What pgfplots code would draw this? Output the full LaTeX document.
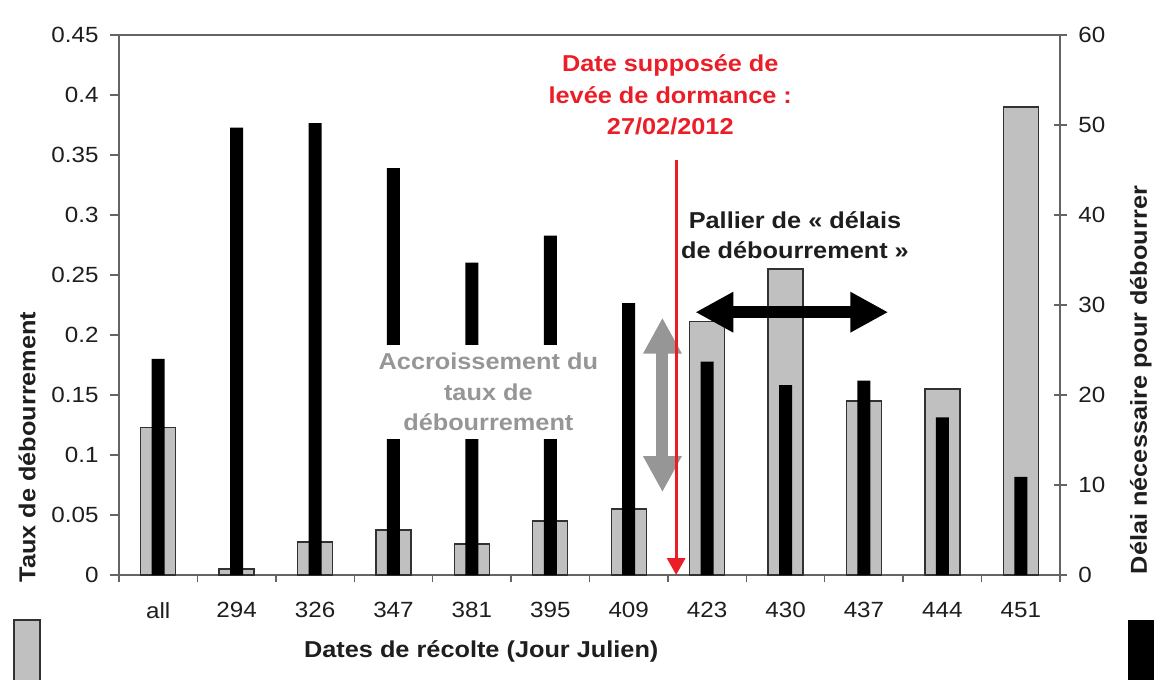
\documentclass[border=0pt]{standalone}
\usepackage{fontspec}
\setmainfont{Liberation Sans}[FakeStretch=1.1]
\usepackage{pgfplots}
\pgfplotsset{compat=1.18}
\usetikzlibrary{arrows.meta,calc}

\definecolor{axgray}{RGB}{100,100,100}
\definecolor{bargray}{RGB}{192,192,192}
\definecolor{barline}{RGB}{50,50,50}
\definecolor{annred}{RGB}{235,30,40}
\definecolor{anngray}{RGB}{150,150,150}
\definecolor{txt}{RGB}{30,30,30}

\begin{document}
\begin{tikzpicture}
\begin{axis}[
  name=ax,
  scale only axis, width=470.5pt, height=270pt,
  xmin=-0.5, xmax=11.5, ymin=0, ymax=0.45,
  ybar, bar width=17.5pt,
  xtick={0,...,11},
  xticklabels={all,294,326,347,381,395,409,423,430,437,444,451},
  minor xtick={-0.5,0.5,...,11.5},
  major x tick style={draw=none},
  ytick={0,0.05,0.1,0.15,0.2,0.25,0.3,0.35,0.4,0.45},
  yticklabels={0,0.05,0.1,0.15,0.2,0.25,0.3,0.35,0.4,0.45},
  xtick pos=lower, ytick pos=left,
  tick align=outside, major tick length=4.5pt, minor tick length=3.5pt,
  axis line style={axgray, line width=0.7pt},
  tick style={axgray, line width=0.7pt},
  tick label style={font=\fontsize{11}{13}\selectfont, text=txt},
  /pgf/number format/assume math mode=true,
  xticklabel style={yshift=-5.7pt},
  yticklabel style={xshift=-2.2pt},
  clip=false,
]
\addplot[fill=bargray, draw=barline, line width=0.7pt] coordinates {
(0,0.123) (1,0.005) (2,0.0275) (3,0.0375) (4,0.026) (5,0.045) (6,0.055)
(7,0.211) (8,0.255) (9,0.145) (10,0.155) (11,0.390)};
\node[rotate=90, font=\bfseries\fontsize{11.5}{14}\selectfont, text=txt] at (rel axis cs:-0.0978,0.237) {Taux de débourrement};
\node[anchor=base, font=\bfseries\fontsize{11.5}{14}\selectfont, text=txt] at (rel axis cs:0.385,-0.1519) {Dates de récolte (Jour Julien)};
\end{axis}
\begin{axis}[
  scale only axis, width=470.5pt, height=270pt,
  xmin=-0.5, xmax=11.5, ymin=0, ymax=60,
  ybar, bar width=6.5pt,
  axis x line=none, axis y line*=right,
  ytick={0,10,...,60},
  tick align=center, major tick length=6.5pt,
  axis line style={axgray, line width=0.7pt},
  tick style={axgray, line width=0.7pt},
  tick label style={font=\fontsize{11}{13}\selectfont, text=txt},
  /pgf/number format/assume math mode=true,
  yticklabel style={xshift=2.4pt},
  clip=false,
]
\addplot[fill=black, draw=none] coordinates {
(0,24.0) (1,49.7) (2,50.2) (3,45.2) (4,34.7) (5,37.7) (6,30.2)
(7,23.7) (8,21.1) (9,21.6) (10,17.5) (11,10.9)};
% annotations
\node[anngray, fill=white, inner sep=4pt, align=center, font=\bfseries\fontsize{11.5}{15.25}\selectfont] at (axis cs:4.21,20.33) {Accroissement du\\taux de\\débourrement};
\draw[anngray, line width=6pt, {Triangle[length=18pt,width=18pt]}-{Triangle[length=18pt,width=18pt]}] (axis cs:6.43,28.6) -- (axis cs:6.43,9.2);
\draw[annred, line width=1.6pt, -{Triangle[length=8.5pt,width=9pt]}] (axis cs:6.605,46.1) -- (axis cs:6.605,0);
\node[annred, align=center, font=\bfseries\fontsize{11.5}{15.75}\selectfont] at (axis cs:6.53,53.3) {Date supposée de\\levée de dormance :\\27/02/2012};
\node[txt, align=center, font=\bfseries\fontsize{11.5}{15}\selectfont] at (axis cs:8.12,37.8) {Pallier de « délais\\de débourrement »};
\draw[black, line width=6pt, {Triangle[length=19pt,width=19pt]}-{Triangle[length=19pt,width=19pt]}] (axis cs:6.85,29.2) -- (axis cs:9.31,29.2);
\node[rotate=90, font=\bfseries\fontsize{11.5}{14}\selectfont, text=txt] at (rel axis cs:1.086,0.361) {Délai nécessaire pour débourrer};
% legend patches (cropped)
\filldraw[fill=bargray, draw=barline, line width=0.7pt] (rel axis cs:-0.1116,-0.0833) rectangle (rel axis cs:-0.084,-0.26);
\fill[black] (rel axis cs:1.0722,-0.0833) rectangle (rel axis cs:1.11,-0.26);
\end{axis}
\pgfresetboundingbox
\path[use as bounding box] ($(ax.south west)+(-59.5pt,-52pt)$) rectangle ($(ax.north east)+(47pt,17.5pt)$);
\end{tikzpicture}
\end{document}
